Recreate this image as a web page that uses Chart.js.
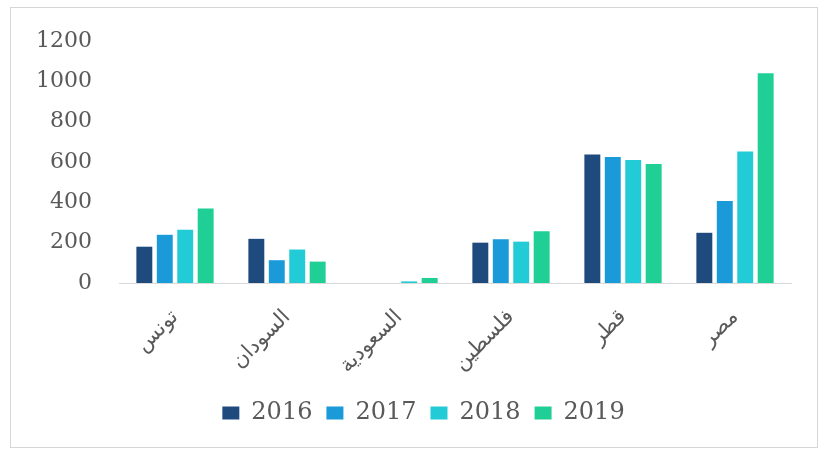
<!DOCTYPE html>
<html lang="ar">
<head>
<meta charset="utf-8">
<title>2016-2019</title>
<script src="https://cdn.jsdelivr.net/npm/chart.js@4/dist/chart.umd.min.js"></script>
<style>
  html, body { margin: 0; padding: 0; background: #fff; }
  .wrap { position: relative; width: 821px; height: 449px; }
  .frame {
    position: absolute; left: 10px; top: 7px; width: 806px; height: 439px;
    border: 1px solid #d6d6d6; pointer-events: none;
  }
  canvas { position: absolute; left: 0; top: 0; }
</style>
</head>
<body>
<div class="wrap">
  <canvas id="barChart" width="821" height="449"></canvas>
  <div class="frame"></div>
</div>
<script>
// countries along the x axis
const countries = ['تونس', 'السودان', 'السعودية', 'فلسطين', 'قطر', 'مصر'];
const years = ['2016', '2017', '2018', '2019'];

// one array per year, same order as countries
const values2016 = [180, 219, 0, 200, 637, 249];
const values2017 = [239, 113, 0, 217, 625, 406];
const values2018 = [264, 166, 8, 205, 610, 652];
const values2019 = [370, 106, 25, 257, 590, 1040];

const yTicks = [0, 200, 400, 600, 800, 1000, 1200];

const colors = ['#1f4a7e', '#1a9ad8', '#22cbd6', '#20cf95'];
const series = [values2016, values2017, values2018, values2019];

const textGray = '#595959';

// nudge the legend row to the right of the plot centre
const legendShift = {
  id: 'legendShift',
  afterLayout(chart) {
    const lg = chart.legend;
    if (!lg) return;
    lg.left += 22;
    lg.right += 22;
  }
};

const ctx = document.getElementById('barChart').getContext('2d');
new Chart(ctx, {
  type: 'bar',
  data: {
    labels: countries,
    datasets: years.map((y, i) => ({
      label: y,
      data: series[i],
      backgroundColor: colors[i],
      categoryPercentage: 0.73,
      barPercentage: 0.78
    }))
  },
  options: {
    responsive: false,
    animation: false,
    layout: { padding: { left: 12, right: 30, top: 41, bottom: 14 } },
    plugins: {
      tooltip: { enabled: false },
      legend: {
        position: 'bottom',
        labels: {
          boxWidth: 17,
          boxHeight: 13,
          padding: 14,
          color: textGray,
          font: { family: 'DejaVu Serif', size: 24 }
        }
      }
    },
    scales: {
      x: {
        grid: { display: false, drawTicks: false },
        border: { display: true, color: '#d9d9d9', width: 1 },
        ticks: {
          color: textGray,
          minRotation: 45,
          maxRotation: 45,
          padding: 22,
          font: { family: 'DejaVu Serif, DejaVu Sans', size: 21 }
        },
        afterFit: scale => { scale.height = 104; }
      },
      y: {
        min: 0,
        max: 1200,
        afterBuildTicks: scale => { scale.ticks = yTicks.map(v => ({ value: v })); },
        grid: { display: false, drawTicks: false },
        border: { display: false },
        ticks: {
          color: textGray,
          padding: 27,
          callback: v => String(v),
          font: { family: 'DejaVu Serif', size: 22 }
        },
        afterFit: scale => { scale.width = 107; }
      }
    }
  },
  plugins: [legendShift]
});
</script>
</body>
</html>
